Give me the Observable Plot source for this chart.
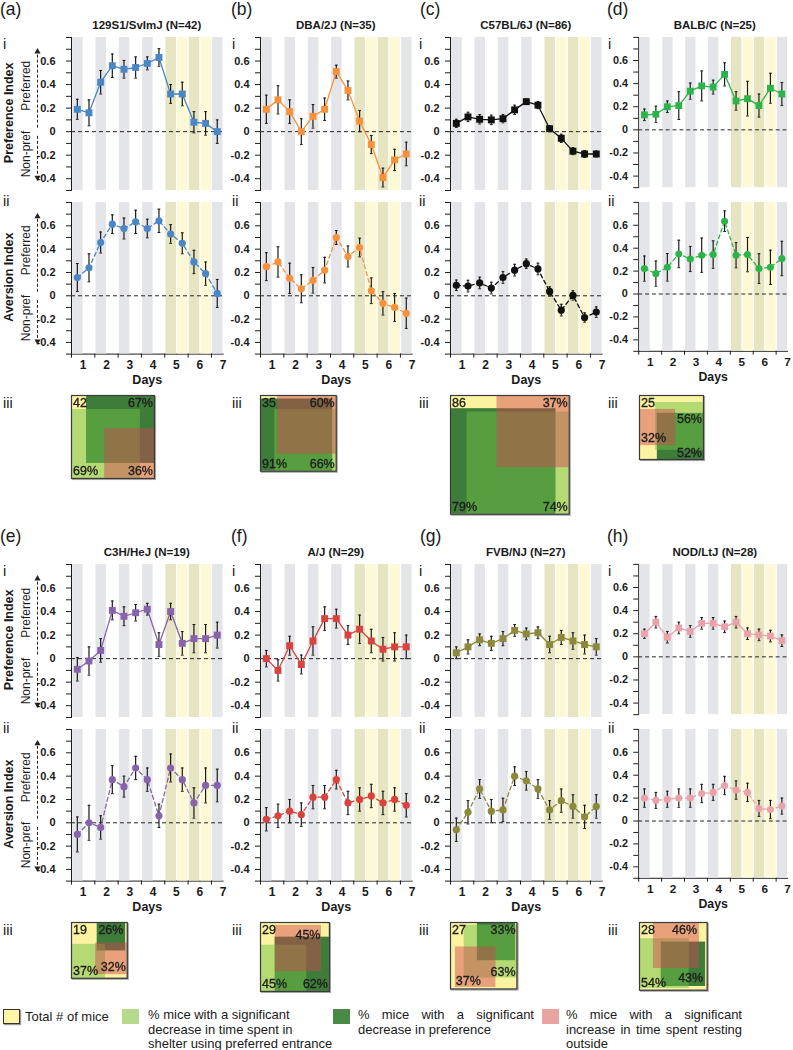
<!DOCTYPE html>
<html><head><meta charset="utf-8">
<script src="https://cdn.jsdelivr.net/npm/d3@7"></script>
<script src="https://cdn.jsdelivr.net/npm/@observablehq/plot@0.6"></script>
<style>
body{margin:0;background:#fff;}
#fig{position:relative;width:793px;height:1050px;overflow:hidden;font-family:"Liberation Sans",Arial,Helvetica,sans-serif;color:#1a1a1a;background:#fff;}
.abs{position:absolute;line-height:1;white-space:nowrap;}
.plab{font-size:17.5px;}
.rom{font-size:14.5px;}
.title{font-size:11.5px;font-weight:bold;text-align:center;width:200px;}
.sw{position:absolute;width:17px;height:15px;}
.leg{position:absolute;font-size:13px;line-height:14.5px;}
.just{text-align:justify;white-space:normal;width:176px;}
</style></head><body><div id="fig"></div>
<script>
// ---------------- data ----------------
const strains = ["129S1/SvImJ","DBA/2J","C57BL/6J","BALB/C","C3H/HeJ","A/J","FVB/NJ","NOD/LtJ"];
const panelLetters = ["a","b","c","d","e","f","g","h"];
const mouseCounts = [42,35,86,25,19,29,27,28];
const strainColors = ["#4a87c6","#f7923c","#111111","#2cb34a","#8763ad","#d9433f","#8d893b","#e9a1aa"];
const dayLabels = ["1","2","3","4","5","6","7"];
const slotPhases = ["gray","white","gray","white","gray","white","gray","white","olive","yellow","olive","yellow","gray"];
const yTicks = [-0.5,-0.4,-0.3,-0.2,-0.1,0,0.1,0.2,0.3,0.4,0.5,0.6,0.7,0.8];
const yTickLabels = ["","-0.4","","-0.2","","0","","0.2","","0.4","","0.6","",""];

// (i) Preference index, mean and SEM per half-day slot
const prefMeans = [
  [0.19,0.16,0.42,0.56,0.53,0.545,0.58,0.63,0.32,0.32,0.08,0.07,0.0],
  [0.19,0.27,0.17,0.0,0.13,0.19,0.51,0.35,0.09,-0.11,-0.39,-0.24,-0.19],
  [0.07,0.125,0.105,0.10,0.11,0.185,0.255,0.225,0.025,-0.057,-0.166,-0.19,-0.19],
  [0.13,0.135,0.20,0.21,0.335,0.38,0.37,0.48,0.25,0.27,0.21,0.36,0.31],
  [-0.09,-0.02,0.07,0.41,0.36,0.39,0.42,0.12,0.40,0.13,0.17,0.17,0.20],
  [0.0,-0.10,0.11,-0.05,0.15,0.34,0.34,0.20,0.25,0.15,0.08,0.10,0.10],
  [0.05,0.10,0.16,0.13,0.17,0.24,0.21,0.22,0.12,0.18,0.15,0.12,0.10],
  [0.20,0.30,0.17,0.25,0.22,0.29,0.29,0.26,0.30,0.20,0.19,0.18,0.14]
];
const prefErrs = [
  [0.085,0.11,0.10,0.10,0.075,0.09,0.055,0.075,0.08,0.10,0.09,0.10,0.10],
  [0.12,0.12,0.10,0.11,0.10,0.095,0.055,0.08,0.09,0.077,0.08,0.09,0.10],
  [0.035,0.04,0.04,0.04,0.035,0.04,0.02,0.03,0.025,0.035,0.03,0.03,0.025],
  [0.05,0.07,0.05,0.12,0.07,0.13,0.06,0.10,0.08,0.15,0.10,0.13,0.10],
  [0.10,0.12,0.10,0.08,0.08,0.07,0.05,0.10,0.07,0.10,0.12,0.12,0.11],
  [0.07,0.09,0.08,0.08,0.12,0.10,0.08,0.08,0.12,0.10,0.10,0.12,0.10],
  [0.05,0.06,0.05,0.06,0.06,0.05,0.05,0.05,0.07,0.06,0.07,0.08,0.07],
  [0.04,0.05,0.05,0.05,0.05,0.05,0.05,0.05,0.05,0.05,0.05,0.05,0.05]
];
// (ii) Aversion index
const aversMeans = [
  [0.157,0.24,0.457,0.614,0.577,0.634,0.577,0.643,0.53,0.45,0.29,0.19,0.02],
  [0.25,0.29,0.15,0.06,0.133,0.22,0.50,0.337,0.414,0.043,-0.065,-0.10,-0.15],
  [0.09,0.083,0.11,0.066,0.157,0.22,0.275,0.23,0.037,-0.123,0.003,-0.186,-0.14],
  [0.222,0.178,0.233,0.35,0.306,0.339,0.344,0.636,0.339,0.344,0.222,0.233,0.31],
  [-0.10,0.0,-0.04,0.37,0.31,0.47,0.37,0.06,0.47,0.37,0.17,0.32,0.32],
  [0.03,0.06,0.10,0.07,0.22,0.22,0.37,0.17,0.20,0.23,0.17,0.20,0.15],
  [-0.06,0.09,0.29,0.10,0.11,0.40,0.36,0.29,0.11,0.19,0.14,0.05,0.14],
  [0.20,0.18,0.19,0.20,0.20,0.24,0.25,0.31,0.27,0.25,0.11,0.10,0.13]
];
const aversErrs = [
  [0.12,0.12,0.09,0.08,0.09,0.10,0.08,0.10,0.08,0.09,0.10,0.10,0.12],
  [0.12,0.13,0.13,0.12,0.11,0.11,0.06,0.09,0.08,0.11,0.10,0.12,0.13],
  [0.045,0.05,0.05,0.05,0.05,0.05,0.04,0.05,0.04,0.05,0.04,0.04,0.045],
  [0.11,0.11,0.12,0.12,0.11,0.15,0.12,0.09,0.11,0.15,0.13,0.15,0.15],
  [0.15,0.15,0.10,0.12,0.09,0.10,0.10,0.10,0.12,0.10,0.13,0.15,0.14],
  [0.10,0.10,0.10,0.10,0.10,0.10,0.08,0.10,0.10,0.10,0.10,0.10,0.10],
  [0.10,0.10,0.08,0.10,0.10,0.08,0.08,0.08,0.08,0.10,0.10,0.10,0.10],
  [0.08,0.07,0.07,0.08,0.08,0.08,0.07,0.08,0.08,0.08,0.07,0.08,0.07]
];
// (iii) overlap diagrams (percent of mice)
const pctLight  = [69,66,74,56,37,45,63,54];
const pctDark   = [67,91,79,52,26,62,33,43];
const pctSalmon = [36,60,37,32,32,45,37,46];

// ---------------- layout ----------------
const colX = [71, 260, 450, 639];
const rowY = [0, 527];
const plotW = 151.6;
const font = '"Liberation Sans", Arial, Helvetica, sans-serif';
const stripeFill = {gray:"#e4e5e8", olive:"#e6e4c1", yellow:"#fdf9d6"};
// anchors of each square inside the box (fraction of free space, x then y from top)
const lightAnchor  = [[0,1],[1,1],[1,1],[1,0.43],[0,1],[0,1],[1,0.2],[0,0.9]];
const darkAnchor   = [[1,0],[0,1],[0,1],[1,1],[0.94,0],[1,1],[0.95,0],[0.93,0.84]];
const salmonAnchor = [[1,1],[1,0],[1,0],[0,0.5],[1,0.85],[0.65,0.13],[0.19,0.94],[0.64,0]];
// label placement [fx, fy] (0/1 = edges)
const lightLab  = [[0,1],[1,1],[1,1],[1,0.36],[0,1],[0,1],[1,0.74],[0,1]];
const darkLab   = [[1,0],[0,1],[0,1],[1,1],[0.93,0],[1,1],[1,0],[0.94,0.82]];
const salmonLab = [[1,1],[1,0],[1,0],[0,0.66],[1,0.8],[0.87,0.18],[0.08,0.88],[0.85,0]];

const fig = document.getElementById("fig");
function place(node, left, top) {
  const d = document.createElement("div");
  d.className = "abs"; d.style.left = left + "px"; d.style.top = top + "px";
  d.appendChild(node); fig.appendChild(d); return d;
}
function html(cls, text, left, top, extra) {
  const d = document.createElement("div");
  d.className = "abs " + cls; d.textContent = text;
  d.style.left = left + "px"; d.style.top = top + "px";
  if (extra) Object.assign(d.style, extra);
  fig.appendChild(d); return d;
}

function linePanel(k, which) {
  const isI = which === 0;
  const means = isI ? prefMeans[k] : aversMeans[k];
  const errs = isI ? prefErrs[k] : aversErrs[k];
  const data = means.map((v, i) => ({x: i + 0.5, v, lo: v - errs[i], hi: v + errs[i]}));
  const col = k % 4, row = Math.floor(k / 4);
  const X0 = colX[col];
  const ml = col === 0 ? 71 : 45, mr = 6, mt = 6;
  const innerH = isI ? 153 : 151.6;
  const mb = isI ? 3 : 40;
  const color = strainColors[k];
  const stripes = slotPhases.map((p, i) => ({x1: i + 0.1, x2: i + 1, p}));
  const marks = [];
  for (const ph of ["gray", "olive", "yellow"]) {
    marks.push(Plot.rect(stripes.filter(d => d.p === ph), {x1: "x1", x2: "x2", y1: -0.5, y2: 0.8, fill: stripeFill[ph]}));
  }
  marks.push(Plot.ruleY([0], {stroke: "#222", strokeWidth: 1, strokeDasharray: "4,3"}));
  marks.push(Plot.line(data, {x: "x", y: "v", stroke: color, strokeWidth: 1.3, strokeDasharray: isI ? null : "4,3"}));
  marks.push(Plot.ruleX(data, {x: "x", y1: "lo", y2: "hi", stroke: "#1a1a1a", strokeWidth: 1.2}));
  marks.push(Plot.link(data, {x1: d => d.x - 0.12, x2: d => d.x + 0.12, y1: "hi", y2: "hi", stroke: "#1a1a1a", strokeWidth: 1}));
  marks.push(Plot.link(data, {x1: d => d.x - 0.12, x2: d => d.x + 0.12, y1: "lo", y2: "lo", stroke: "#1a1a1a", strokeWidth: 1}));
  marks.push(Plot.dot(data, {x: "x", y: "v", symbol: isI ? "square" : "circle", r: isI ? 3.9 : 3.6, fill: color}));
  if (!isI) {
    marks.push(Plot.text(dayLabels, {x: (d, i) => 2 * i + 1, frameAnchor: "bottom", dy: 15, fontSize: 12, fontWeight: "bold", fill: "#1a1a1a"}));
    marks.push(Plot.text(["Days"], {x: 6.5, frameAnchor: "bottom", dy: 30, fontSize: 12.5, fontWeight: "bold", fill: "#1a1a1a"}));
  }
  if (col === 0) {
    marks.push(Plot.text([isI ? "Preference Index" : "Aversion Index"], {x: 0, y: 0.16, dx: -63, rotate: -90, fontSize: 12.5, fontWeight: "bold", fill: "#1a1a1a"}));
    marks.push(Plot.text(["Preferred"], {x: 0, y: 0.39, dx: -45, rotate: -90, fontSize: 12, fontWeight: "normal", fill: "#1a1a1a"}));
    marks.push(Plot.text(["Non-pref"], {x: 0, y: -0.19, dx: -45, rotate: -90, fontSize: 12, fontWeight: "normal", fill: "#1a1a1a"}));
    marks.push(Plot.ruleX([0], {y1: 0.03, y2: 0.66, dx: -34, stroke: "#222", strokeWidth: 1, strokeDasharray: "3,2"}));
    marks.push(Plot.ruleX([0], {y1: -0.04, y2: -0.37, dx: -34, stroke: "#222", strokeWidth: 1, strokeDasharray: "3,2"}));
    marks.push(Plot.dot([0], {x: 0, y: 0.68, dx: -34, symbol: "triangle", r: 2.3, fill: "#222"}));
    marks.push(Plot.dot([0], {x: 0, y: -0.39, dx: -34, symbol: "triangle", r: 2.3, rotate: 180, fill: "#222"}));
  }
  const svg = Plot.plot({
    width: ml + plotW + mr, height: mt + innerH + mb,
    marginLeft: ml, marginRight: mr, marginTop: mt, marginBottom: mb,
    style: {background: "transparent", overflow: "visible", fontFamily: font, fontSize: "11px", fontWeight: "bold", color: "#1a1a1a"},
    x: isI ? {domain: [0, 13], axis: null} :
      {domain: [0, 13], ticks: [0, 2, 4, 6, 8, 10, 12], tickFormat: () => "", tickSize: 4, line: true, label: null},
    y: {domain: [-0.5, 0.8], ticks: yTicks, tickFormat: (d) => yTickLabels[yTicks.indexOf(d)], tickSize: 5, tickPadding: col === 0 ? 11 : 6, line: true, label: null},
    marks
  });
  const topY = rowY[row] + (isI ? 36.5 : 201.7) - mt;
  place(svg, X0 - ml, topY);
}

function vennPanel(k) {
  const n = mouseCounts[k];
  const s = Math.sqrt(n);
  const S = 12.8 * s;
  const m = 1;
  const sq = (p, a) => {
    const side = Math.sqrt(p / 100 * n);
    const x1 = a[0] * (s - side), y1 = a[1] * (s - side);
    return [{x1, x2: x1 + side, y1, y2: y1 + side}];
  };
  const R = {x1: "x1", x2: "x2", y1: "y1", y2: "y2"};
  const lab = (text, f) => {
    const fx = f[0], fy = f[1];
    const anchor = fx < 0.5 ? "start" : "end";
    return Plot.text([text], {
      x: fx * s, y: fy * s,
      dx: fx === 0 ? 1.5 : (fx === 1 ? -1.5 : 0),
      dy: fy === 0 ? 7.5 : (fy === 1 ? -7 : 0),
      textAnchor: anchor, fontSize: 12.5, fill: "#1d1d1d", stroke: "#1d1d1d", strokeWidth: 0.35
    });
  };
  const svg = Plot.plot({
    width: S + 2 * m, height: S + 2 * m, margin: m,
    style: {background: "transparent", overflow: "visible", fontFamily: font},
    x: {domain: [0, s], axis: null},
    y: {domain: [0, s], range: [m, m + S], axis: null},
    marks: [
      Plot.rect([{x1: 0, x2: s, y1: 0, y2: s}], {...R, fill: "#fbf3a0"}),
      Plot.rect(sq(pctDark[k], darkAnchor[k]), {...R, fill: "#3e7c3a"}),
      Plot.rect(sq(pctLight[k], lightAnchor[k]), {...R, fill: "#70bf45", fillOpacity: 0.5}),
      Plot.rect(sq(pctSalmon[k], salmonAnchor[k]), {...R, fill: "#d24451", fillOpacity: 0.47}),
      Plot.frame({stroke: "#3a3a3a", strokeWidth: 1.2}),
      lab(String(n), [0, 0]),
      lab(pctDark[k] + "%", darkLab[k]),
      lab(pctLight[k] + "%", lightLab[k]),
      lab(pctSalmon[k] + "%", salmonLab[k])
    ]
  });
  const col = k % 4, row = Math.floor(k / 4);
  const d = place(svg, colX[col] - m, rowY[row] + 395 - m);
  d.style.filter = "drop-shadow(1px 1px 0.5px rgba(0,0,0,0.35))";
}

const labX = [0, 231, 420, 607];
const romX = [3, 232, 419, 608];
for (let k = 0; k < 8; k++) {
  const col = k % 4, row = Math.floor(k / 4);
  const y0 = rowY[row];
  html("plab", "(" + panelLetters[k] + ")", labX[col], y0 + 1);
  html("title", strains[k] + " (N=" + mouseCounts[k] + ")", colX[col] + plotW / 2 - 100, y0 + 20);
  html("rom", "i", romX[col], y0 + 37);
  html("rom", "ii", romX[col], y0 + 194);
  html("rom", "iii", romX[col], y0 + 396);
  linePanel(k, 0);
  linePanel(k, 1);
  vennPanel(k);
}

// ---------------- legend ----------------
const legendItems = [
  {text: "Total # of mice", color: "#fcf5a6", border: true},
  {text: "% mice with a significant decrease in time spent in shelter using preferred entrance", color: "#b6d98c"},
  {text: "% mice with a significant decrease in preference", color: "#4a8945"},
  {text: "% mice with a significant increase in time spent resting outside", color: "#e8a4a1"}
];
const legSwX = [3, 122, 333, 542];
const legTxX = [25, 148, 358, 566];
legendItems.forEach((it, i) => {
  const sw = document.createElement("div");
  sw.className = "sw"; sw.style.left = legSwX[i] + "px"; sw.style.top = "1009px";
  sw.style.background = it.color;
  if (it.border) { sw.style.border = "1px solid #333"; sw.style.boxShadow = "1px 1px 1px rgba(0,0,0,0.4)"; sw.style.width = "15px"; sw.style.height = "13px"; }
  fig.appendChild(sw);
  const t = document.createElement("div");
  t.className = "leg" + (i >= 2 ? " just" : "");
  t.style.left = legTxX[i] + "px"; t.style.top = "1008px";
  if (i === 1) { t.style.width = "200px"; t.innerHTML = "% mice with a significant<br>decrease in time spent in<br>shelter using preferred entrance"; }
  else t.textContent = it.text;
  if (i === 0) t.style.top = "1010px";
  fig.appendChild(t);
});
</script></body></html>
